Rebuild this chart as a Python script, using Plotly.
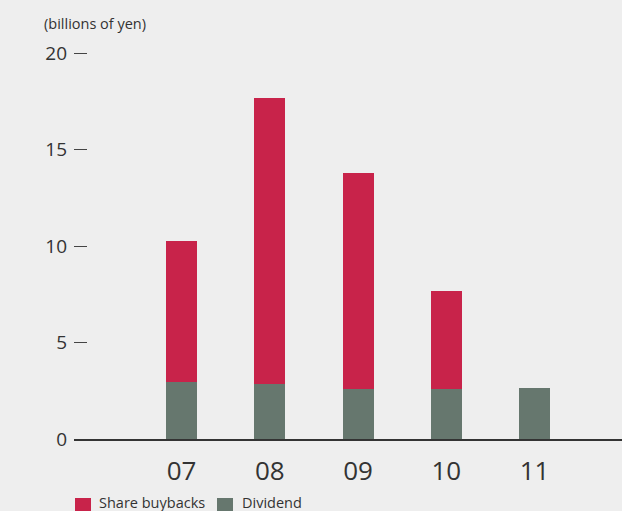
import plotly.graph_objects as go

years = ["07", "08", "09", "10", "11"]
dividend = [2.97, 2.85, 2.61, 2.61, 2.66]
buybacks = [7.30, 14.83, 11.19, 5.07, 0.0]
y_ticks = [0, 5, 10, 15, 20]

RED = "#C8234A"
GREEN = "#66776E"
BG = "#EEEEEE"
TXT = "#333333"
FONT = "Open Sans"

W, H = 622, 511
ML, MR, MT, MB = 74, 0, 40, 72
PW, PH = W - ML - MR, H - MT - MB

def px(x):
    return (x - ML) / PW

def py(y):
    return (H - MB - y) / PH

fig = go.Figure()
fig.add_trace(go.Bar(x=years, y=dividend, name="Dividend", marker=dict(color=GREEN, line=dict(width=0)), width=0.351))
fig.add_trace(go.Bar(x=years, y=buybacks, name="Share buybacks", marker=dict(color=RED, line=dict(width=0)), width=0.351))

fig.update_layout(
    width=W, height=H,
    margin=dict(l=ML, r=MR, t=MT, b=MB, pad=0),
    barmode="stack",
    paper_bgcolor=BG, plot_bgcolor=BG,
    showlegend=False,
    font=dict(family=FONT, color=TXT),
    xaxis=dict(
        type="category", range=[-1.218, 4.99],
        showgrid=False, zeroline=False,
        showline=True, linecolor="#333333", linewidth=1.5,
        ticks="outside", ticklen=8, tickcolor="rgba(0,0,0,0)",
        tickfont=dict(size=26, color=TXT, family=FONT),
    ),
    yaxis=dict(
        range=[0, PH / 19.3], showgrid=False, zeroline=False, showline=False,
        tickmode="array", tickvals=y_ticks, ticktext=[str(v) for v in y_ticks],
        ticks="inside", ticklen=13, tickwidth=1, tickcolor="#444444",
        ticklabelstandoff=6,
        tickfont=dict(size=19, color=TXT, family=FONT),
    ),
)

fig.add_annotation(text="(billions of yen)", xref="paper", yref="paper",
                   x=px(42), y=py(23), xanchor="left", yanchor="middle",
                   showarrow=False, font=dict(size=14.5, color=TXT, family=FONT))

legend_items = [("Share buybacks", RED, 75, 97), ("Dividend", GREEN, 217, 240)]
for label, col, sx, tx in legend_items:
    fig.add_shape(type="rect", xref="paper", yref="paper",
                  x0=px(sx), x1=px(sx + 16), y0=py(498), y1=py(514),
                  fillcolor=col, line=dict(width=0))
    fig.add_annotation(text=label, xref="paper", yref="paper",
                       x=px(tx), y=py(502), xanchor="left", yanchor="middle",
                       showarrow=False, font=dict(size=14.5, color=TXT, family=FONT))

fig.write_html("out.html", config={"displayModeBar": False},
               post_script="document.body.style.margin='0';")
